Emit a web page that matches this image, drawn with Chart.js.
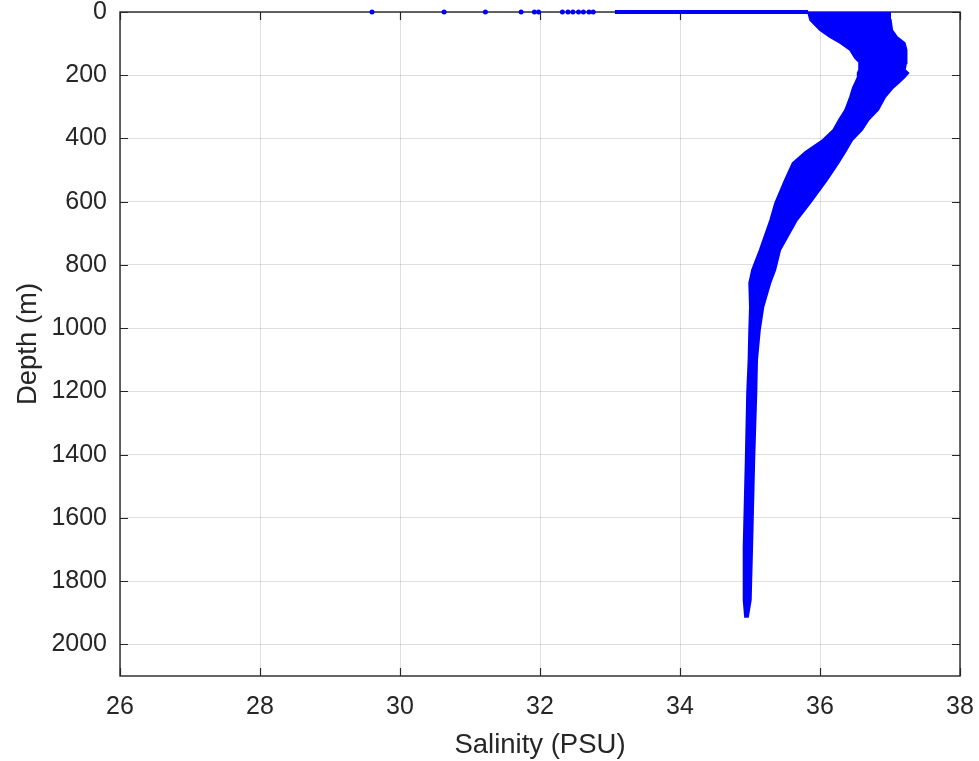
<!DOCTYPE html>
<html>
<head>
<meta charset="utf-8">
<script src="https://cdn.jsdelivr.net/npm/chart.js@4/dist/chart.umd.min.js"></script>
<style>
  html, body { margin: 0; padding: 0; background: #fff; }
  #wrap { width: 979px; height: 761px; }
</style>
</head>
<body>
<div id="wrap"><canvas id="canvas" width="979" height="761"></canvas></div>
<script>
// salinity profile: envelope of all casts, by depth (m)
const bandDepth = [0, 25, 57, 79, 98, 120, 145, 161, 183, 193, 206, 221, 240, 269, 310, 342, 373, 405, 443, 478, 531, 604, 658, 721, 753, 816, 857, 933, 1006, 1101, 1205, 1417, 1692, 1860, 1913];
const bandLeft = [35.83, 35.86, 36.0, 36.14, 36.29, 36.43, 36.5, 36.57, 36.56, 36.54, 36.54, 36.51, 36.47, 36.43, 36.36, 36.27, 36.19, 36.04, 35.79, 35.61, 35.5, 35.36, 35.29, 35.19, 35.14, 35.03, 34.99, 35.0, 34.99, 34.98, 34.96, 34.94, 34.91, 34.91, 34.93];
const bandRight = [37.0, 37.01, 37.03, 37.1, 37.21, 37.23, 37.24, 37.23, 37.21, 37.26, 37.21, 37.14, 37.04, 36.93, 36.83, 36.69, 36.6, 36.46, 36.36, 36.26, 36.1, 35.86, 35.67, 35.51, 35.43, 35.36, 35.29, 35.19, 35.14, 35.1, 35.09, 35.06, 35.03, 35.01, 34.97];

// surface readings (depth 0)
const surfaceSal = [29.6, 30.63, 31.22, 31.73, 31.92, 31.98, 32.32, 32.4, 32.47, 32.55, 32.62, 32.7, 32.76];
const surfaceRun = [33.07, 35.83];

const xTicks = [26, 28, 30, 32, 34, 36, 38];
const yTicks = [0, 200, 400, 600, 800, 1000, 1200, 1400, 1600, 1800, 2000];

const BLUE = "#0000ff";
const INK = "#262626";
const FONT = "'Liberation Sans', Arial, Helvetica, sans-serif";

// outline: down the fresh side, back up the salty side
const bandOutline = bandDepth.map((d, i) => ({ x: bandLeft[i], y: d }))
  .concat(bandDepth.map((d, i) => ({ x: bandRight[i], y: d })).reverse());

// MATLAB-style box with inward ticks on all four sides
const boxFrame = {
  id: "boxFrame",
  beforeDatasetsDraw(chart) {
    const { ctx, chartArea: a, scales } = chart;
    const len = 8;
    ctx.save();
    ctx.strokeStyle = INK;
    ctx.lineWidth = 1.4;
    ctx.strokeRect(a.left, a.top, a.right - a.left, a.bottom - a.top);
    ctx.lineWidth = 1.2;
    ctx.beginPath();
    xTicks.forEach(v => {
      const px = Math.round(scales.x.getPixelForValue(v)) + 0.5;
      ctx.moveTo(px, a.bottom); ctx.lineTo(px, a.bottom - len);
      ctx.moveTo(px, a.top); ctx.lineTo(px, a.top + len);
    });
    yTicks.forEach(v => {
      const py = Math.round(scales.y.getPixelForValue(v)) + 0.5;
      ctx.moveTo(a.left, py); ctx.lineTo(a.left + len, py);
      ctx.moveTo(a.right, py); ctx.lineTo(a.right - len, py);
    });
    ctx.stroke();
    ctx.restore();
  }
};

const ctx = document.getElementById("canvas").getContext("2d");

new Chart(ctx, {
  type: "scatter",
  data: {
    datasets: [
      {
        label: "envelope",
        data: bandOutline,
        showLine: true,
        fill: "shape",
        backgroundColor: BLUE,
        borderColor: BLUE,
        borderWidth: 2,
        pointRadius: 0,
        tension: 0,
        clip: false,
      },
      {
        label: "surface run",
        data: surfaceRun.map(s => ({ x: s, y: 0 })),
        showLine: true,
        borderColor: BLUE,
        borderWidth: 4,
        pointRadius: 0,
        clip: false,
      },
      {
        label: "surface",
        data: surfaceSal.map(s => ({ x: s, y: 0 })),
        backgroundColor: BLUE,
        borderColor: BLUE,
        pointRadius: 2.5,
        borderWidth: 0,
        clip: false,
      },
    ],
  },
  options: {
    responsive: false,
    animation: false,
    layout: { padding: { top: 12, right: 19, left: 0, bottom: 0 } },
    plugins: {
      legend: { display: false },
      tooltip: { enabled: false },
    },
    scales: {
      x: {
        type: "linear",
        min: 26,
        max: 38,
        afterFit: s => { s.height = 85; s.paddingLeft = 0; s.paddingRight = 0; },
        afterBuildTicks: s => { s.ticks = xTicks.map(v => ({ value: v })); },
        ticks: { color: INK, padding: 16, font: { family: FONT, size: 25 }, callback: v => String(v) },
        grid: { color: "rgba(38,38,38,0.15)", lineWidth: 1, drawTicks: false },
        border: { display: false },
        title: {
          display: true,
          text: "Salinity (PSU)",
          color: INK,
          font: { family: FONT, size: 27.5 },
          padding: { top: 0, bottom: -1 },
        },
      },
      y: {
        type: "linear",
        reverse: true,
        min: 0,
        max: 2100,
        afterFit: s => { s.width = 120; s.paddingTop = 0; s.paddingBottom = 0; },
        afterBuildTicks: s => { s.ticks = yTicks.map(v => ({ value: v })); },
        ticks: { color: INK, padding: 13, font: { family: FONT, size: 25 }, callback: v => String(v) },
        grid: { color: "rgba(38,38,38,0.15)", lineWidth: 1, drawTicks: false },
        border: { display: false },
        title: {
          display: true,
          text: "Depth (m)",
          color: INK,
          font: { family: FONT, size: 27.5 },
          padding: { top: 12, bottom: 0 },
        },
      },
    },
  },
  plugins: [boxFrame],
});
</script>
</body>
</html>
